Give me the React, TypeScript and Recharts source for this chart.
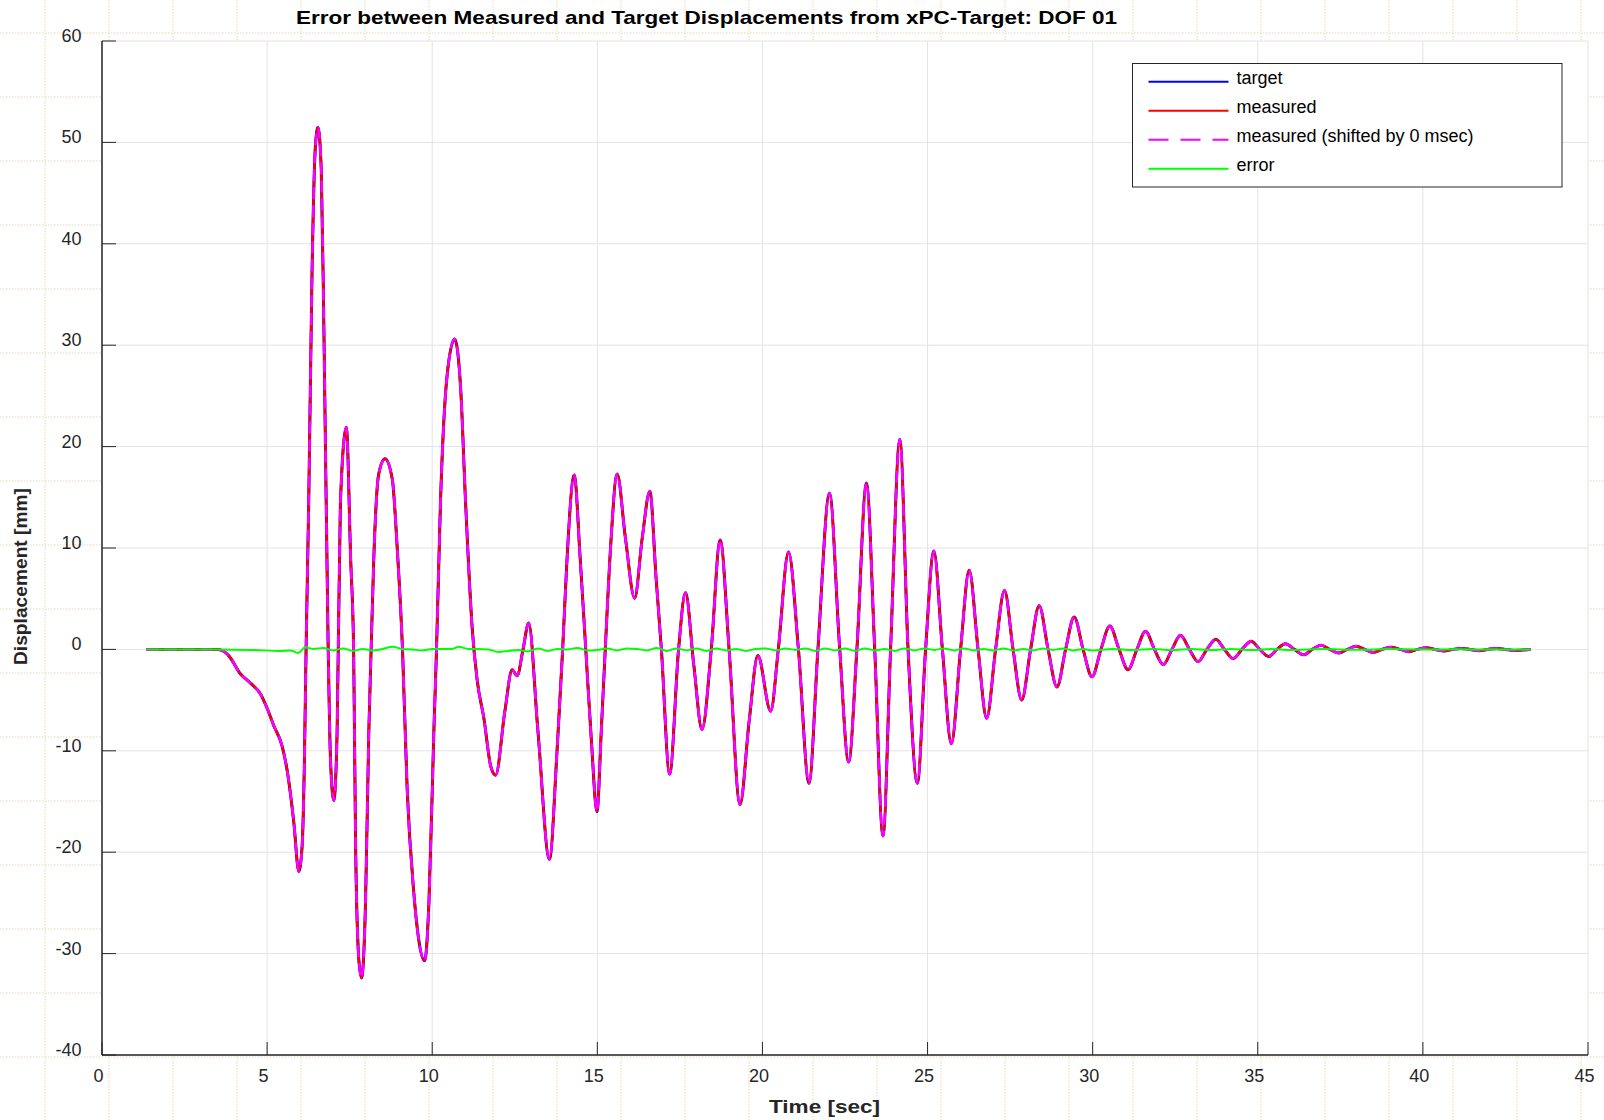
import React from "react";
import { LineChart, Line, XAxis, YAxis, CartesianGrid } from "recharts";

// displacement readings (sec, mm) - target and measured coincide in the picture
const time = [
  1.35, 3.5, 3.79, 3.89, 4.19, 4.49, 4.8, 5.0, 5.2, 5.45, 5.6, 5.81, 5.96, 6.06, 6.13, 6.18, 6.26, 6.36, 6.46, 6.54,
  6.64, 6.72, 6.85, 6.92, 7.02, 7.12, 7.22, 7.4, 7.53, 7.62, 7.68, 7.78, 7.86, 7.98, 8.08, 8.15, 8.23, 8.38, 8.57, 8.79,
  8.94, 9.1, 9.24, 9.44, 9.77, 9.9, 10.05, 10.13, 10.25, 10.45, 10.68, 10.86, 11.01, 11.21, 11.36, 11.57, 11.77, 11.92, 12.2, 12.42,
  12.57, 12.75, 12.92, 13.2, 13.55, 13.78, 13.95, 14.08, 14.3, 14.48, 14.65, 14.82, 14.99, 15.12, 15.24, 15.4, 15.6, 15.85, 16.13, 16.36,
  16.59, 16.78, 16.94, 17.19, 17.46, 17.67, 17.92, 18.17, 18.45, 18.72, 18.99, 19.32, 19.6, 19.86, 20.25, 20.48, 20.79, 21.09, 21.41, 21.68,
  22.03, 22.34, 22.61, 22.86, 23.15, 23.4, 23.65, 23.88, 24.16, 24.41, 24.69, 24.94, 25.19, 25.45, 25.72, 26.0, 26.26, 26.53, 26.79, 27.06,
  27.33, 27.59, 27.85, 28.12, 28.38, 28.65, 28.92, 29.18, 29.44, 29.71, 29.98, 30.25, 30.52, 30.8, 31.07, 31.34, 31.6, 31.87, 32.14, 32.4,
  32.66, 32.93, 33.19, 33.46, 33.73, 33.99, 34.25, 34.52, 34.8, 35.06, 35.33, 35.58, 35.84, 36.11, 36.39, 36.65, 36.92, 37.18, 37.45, 37.71,
  37.98, 38.24, 38.5, 38.77, 39.04, 39.31, 39.58, 39.84, 40.1, 40.37, 40.64, 40.9, 41.16, 41.43, 41.7, 41.96, 42.23, 42.5, 42.76, 43.26,
];
const target = [
  0, 0, -0.45, -0.85, -2.4, -3.3, -4.4, -5.8, -7.5, -9.5, -11.8, -17.1, -21.9, -19.4, -10.9, 0, 14.5, 37.1, 49.5, 51.5,
  47.3, 31.5, 0, -10.9, -14.9, -8.1, 14.5, 21.9, 8.9, 0, -19.4, -30.7, -32.4, -25, -8.1, 0, 8.9, 17.3, 18.8, 16.8,
  10, 0, -13.7, -23.9, -30.7, -25, -8.1, 0, 14.5, 27, 30.6, 25.8, 14.5, 2.1, -3, -6.9, -11.5, -12.4, -6.1, -2.0,
  -2.6, 0, 2.6, -8, -20.7, -10, 0, 8.8, 17.2, 9, 0, -9, -16.0, -8, 0, 10, 17.3, 11, 5.05, 11,
  15.6, 7, 0, -12.3, 0, 5.6, -1.5, -7.9, 0, 10.8, 0, -15.3, -7, -0.6, -6.1, 0, 9.6, 0, -13.2, 0,
  15.4, 0, -11.1, 0, 16.4, 0, -18.4, 0, 20.7, 0, -13.2, 0, 9.7, 0, -9.3, 0, 7.8, 0, -6.8, 0,
  5.8, 0, -5.0, 0, 4.3, 0, -3.7, 0, 3.2, 0, -2.7, 0, 2.3, 0, -2.0, 0, 1.8, 0, -1.5, 0,
  1.4, 0, -1.2, 0, 1.0, 0, -0.9, 0, 0.8, 0, -0.7, 0, 0.56, 0, -0.53, 0, 0.4, 0, -0.36, 0,
  0.3, 0, -0.3, 0, 0.2, 0, -0.23, 0, 0.16, 0, -0.16, 0, 0.1, 0, -0.13, 0, 0.1, 0, -0.1, 0,
];
const measured = target;

// error readings (sec, mm)
const errTime = [
  1.35, 3.5, 4.5, 5.4, 5.7, 5.95, 6.15, 6.4, 6.7, 7.0, 7.3, 7.6, 7.9, 8.2, 8.5, 8.8, 9.1, 9.4, 9.7, 10.0,
  10.3, 10.6, 10.8, 11.1, 11.4, 11.7, 12.0, 12.3, 12.6, 12.9, 13.2, 13.5, 13.8, 14.1, 14.4, 14.7, 15.0, 15.3, 15.6, 15.9,
  16.2, 16.5, 16.8, 17.1, 17.4, 17.7, 18.0, 18.3, 18.6, 18.9, 19.2, 19.5, 19.8, 20.1, 20.4, 20.7, 21.0, 21.3, 21.6, 21.9,
  22.2, 22.5, 22.8, 23.1, 23.4, 23.7, 24.0, 24.3, 24.6, 24.9, 25.2, 25.5, 25.8, 26.1, 26.4, 26.7, 27.0, 27.3, 27.6, 27.9,
  28.2, 28.5, 28.8, 29.1, 29.4, 29.7, 30.0, 30.6, 31.2, 31.8, 32.4, 33.0, 33.6, 34.2, 34.8, 35.4, 36.0, 37.0, 38.0, 39.0,
  40.0, 41.0, 42.0, 43.26,
];
const errValue = [
  0, 0, -0.05, -0.15, -0.1, -0.35, 0.2, 0.05, 0.15, -0.1, 0.1, -0.15, 0.05, -0.1, 0.05, 0.25, 0.05, 0, -0.1, 0.05,
  0.05, 0.05, 0.25, 0.05, 0.05, 0, -0.25, -0.15, -0.05, -0.2, 0.1, -0.15, 0.05, 0, 0.15, -0.1, -0.05, 0.1, -0.1, 0.1,
  0.05, -0.1, 0.15, -0.15, 0.1, -0.1, 0.1, -0.15, 0.1, -0.1, 0.05, -0.15, 0.05, 0.1, -0.1, 0.1, -0.05, 0.1, -0.15, 0.1,
  -0.1, 0.1, -0.15, 0.1, -0.1, 0.05, -0.15, 0.1, -0.1, 0.1, -0.05, 0.1, -0.1, 0.1, -0.1, 0.05, -0.1, 0.1, -0.1, 0.05,
  -0.1, 0.1, -0.05, 0.1, -0.1, 0.05, -0.1, 0.05, -0.05, 0.05, -0.05, 0.05, -0.05, 0.05, -0.05, 0.05, -0.05, 0.03, -0.03, 0.03,
  -0.02, 0.02, -0.02, 0,
];

const xTicks = [0, 5, 10, 15, 20, 25, 30, 35, 40, 45];
const yTicks = [-40, -30, -20, -10, 0, 10, 20, 30, 40, 50, 60];

const legendItems = [
  { name: "target", color: "#0000ff", dash: undefined },
  { name: "measured", color: "#ff0000", dash: undefined },
  { name: "measured (shifted by 0 msec)", color: "#ff00ff", dash: "20 12" },
  { name: "error", color: "#00ff00", dash: undefined },
];

const dispData = time.map((t, i) => ({ t, target: target[i], measured: measured[i], shifted: measured[i] }));
const errData = errTime.map((t, i) => ({ t, error: errValue[i] }));

const FONT = "'Liberation Sans', Arial, sans-serif";
const AXIS = "#262626";

function BottomTick({ x, y, payload }: any) {
  return (
    <g>
      <line x1={x} x2={x} y1={y} y2={y - 13} stroke={AXIS} strokeWidth={1} />
      <text x={x - 3.5} y={y + 26.5} textAnchor="middle" fontFamily={FONT} fontSize={18} fill="#262626">
        {payload.value}
      </text>
    </g>
  );
}

function TopTick({ x, y }: any) {
  return <line x1={x} x2={x} y1={y} y2={y + 13} stroke={AXIS} strokeWidth={1} />;
}

function LeftTick({ x, y, payload }: any) {
  return (
    <g>
      <line x1={x} x2={x + 14} y1={y} y2={y} stroke={AXIS} strokeWidth={1} />
      <text x={x - 20.5} y={y + 1} textAnchor="end" fontFamily={FONT} fontSize={18} fill="#262626">
        {payload.value}
      </text>
    </g>
  );
}

function RightTick({ x, y }: any) {
  return <line x1={x} x2={x - 14} y1={y} y2={y} stroke={AXIS} strokeWidth={1} />;
}

function Backdrop() {
  const rows = Array.from({ length: 18 }, (_, k) => 33 + 64 * k);
  const cols = Array.from({ length: 25 }, (_, k) => 45 + 64 * k);
  return (
    <svg width={1604} height={1120} style={{ position: "absolute", left: 0, top: 0 }}>
      {rows.map((y) => (
        <line key={"r" + y} x1={0} x2={1604} y1={y} y2={y} stroke="#efe3cc" strokeWidth={1.5} strokeDasharray="1.5 1.5" />
      ))}
      {cols.map((x) => (
        <line key={"c" + x} x1={x} x2={x} y1={0} y2={1120} stroke="#efe3cc" strokeWidth={1.5} strokeDasharray="1.5 1.5" />
      ))}
    </svg>
  );
}

function Overlay() {
  return (
    <svg width={1604} height={1120} style={{ position: "absolute", left: 0, top: 0, pointerEvents: "none" }}>
      <text x={296} y={24} fontFamily={FONT} fontWeight="bold" fontSize={18.5} fill="#000" textLength={821} lengthAdjust="spacingAndGlyphs">
        Error between Measured and Target Displacements from xPC-Target: DOF 01
      </text>
      <text x={769} y={1113} fontFamily={FONT} fontWeight="bold" fontSize={19} fill="#262626" textLength={111} lengthAdjust="spacingAndGlyphs">
        Time [sec]
      </text>
      <text
        transform="translate(27,665) rotate(-90)"
        x={0}
        y={0}
        fontFamily={FONT}
        fontWeight="bold"
        fontSize={19}
        fill="#262626"
        textLength={177}
        lengthAdjust="spacingAndGlyphs"
      >
        Displacement [mm]
      </text>
      <g transform="translate(1132.5,63.5)">
        <rect x={0} y={0} width={429.5} height={123.5} fill="#fff" stroke={AXIS} strokeWidth={1} />
        {legendItems.map((item, i) => (
          <g key={item.name} transform={`translate(0,${18.2 + i * 29})`}>
            <line x1={16} x2={96} y1={0} y2={0} stroke={item.color} strokeWidth={2} strokeDasharray={item.dash} />
            <text x={104} y={2.5} fontFamily={FONT} fontSize={18} fill="#000">
              {item.name}
            </text>
          </g>
        ))}
      </g>
    </svg>
  );
}

export default function App() {
  return (
    <div style={{ position: "absolute", left: 0, top: 0, width: 1604, height: 1120, background: "#fff" }}>
      <Backdrop />
      <div style={{ position: "absolute", left: 0, top: 0 }}>
        <LineChart width={1604} height={1120} margin={{ top: 41, right: 16, bottom: 0, left: 0 }}>
          <CartesianGrid stroke="#e3e3e3" strokeWidth={1} fill="#fff" fillOpacity={1} />
          <XAxis
            xAxisId={0}
            dataKey="t"
            type="number"
            domain={[0, 45]}
            ticks={xTicks}
            interval={0}
            height={65}
            tickSize={0}
            tickMargin={0}
            tickLine={false}
            tick={<BottomTick />}
            axisLine={{ stroke: AXIS, strokeWidth: 1.5 }}
          />
          <XAxis
            xAxisId="top"
            orientation="top"
            dataKey="t"
            type="number"
            domain={[0, 45]}
            ticks={xTicks}
            interval={0}
            height={0}
            tickSize={0}
            tickMargin={0}
            tickLine={false}
            tick={<TopTick />}
            axisLine={{ stroke: AXIS, strokeWidth: 1.5 }}
          />
          <YAxis
            yAxisId={0}
            type="number"
            domain={[-40, 60]}
            ticks={yTicks}
            interval={0}
            width={102}
            tickSize={0}
            tickMargin={0}
            tickLine={false}
            tick={<LeftTick />}
            axisLine={{ stroke: AXIS, strokeWidth: 1.5 }}
          />
          <YAxis
            yAxisId="right"
            orientation="right"
            type="number"
            domain={[-40, 60]}
            ticks={yTicks}
            interval={0}
            width={0}
            tickSize={0}
            tickMargin={0}
            tickLine={false}
            tick={<RightTick />}
            axisLine={{ stroke: AXIS, strokeWidth: 1.5 }}
          />
          <Line data={dispData} dataKey="target" type="monotone" stroke="#0000ff" strokeWidth={3} dot={false} isAnimationActive={false} />
          <Line data={dispData} dataKey="measured" type="monotone" stroke="#ff0000" strokeWidth={2.5} dot={false} isAnimationActive={false} />
          <Line
            data={dispData}
            dataKey="shifted"
            type="monotone"
            stroke="#ff00ff"
            strokeWidth={2.5}
            strokeDasharray="12 6"
            dot={false}
            isAnimationActive={false}
          />
          <Line data={errData} dataKey="error" type="monotone" stroke="#00ff00" strokeWidth={2} dot={false} isAnimationActive={false} />
        </LineChart>
      </div>
      <Overlay />
    </div>
  );
}
